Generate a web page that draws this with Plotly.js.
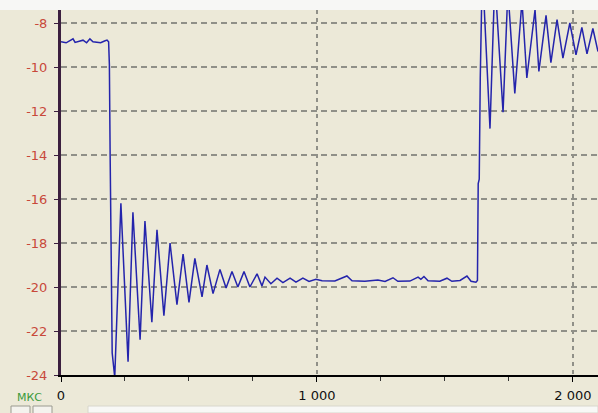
<!DOCTYPE html>
<html>
<head>
<meta charset="utf-8">
<script src="https://cdn.plot.ly/plotly-3.0.1.min.js"></script>
<style>html,body{margin:0;padding:0;background:#ECE9D8;}#chart{width:598px;height:413px;}</style>
</head>
<body>
<div id="chart"></div>
<script>
// time, microseconds
const timeUs = [
  0, 20, 35, 47, 55, 70, 86, 100, 113, 125, 140, 155, 170, 180, 186,
  189, 192, 196, 200, 210,
  234, 262, 281, 309, 328, 355, 375, 402, 426, 453, 477, 500, 523, 551, 570, 594,
  621, 645, 668, 691, 715, 738, 766, 785,
  797, 820, 844, 867, 895, 918, 945, 969, 996, 1020, 1070, 1117, 1137, 1187, 1238,
  1266, 1297, 1316, 1363, 1395, 1406, 1418, 1434, 1480, 1508, 1527, 1559, 1586,
  1602, 1621,
  1627, 1630, 1634, 1638, 1646,
  1676, 1695, 1727, 1746, 1773, 1801, 1820, 1852, 1867, 1895, 1914, 1938, 1961,
  1988, 2012, 2035, 2055, 2078, 2098
];
// signal value
const signal = [
  -8.85, -8.9, -8.8, -8.72, -8.88, -8.82, -8.78, -8.9, -8.72, -8.85, -8.88, -8.9, -8.82, -8.78, -8.85,
  -9.9, -14, -20, -23, -24.1,
  -16.2, -23.4, -16.6, -22.4, -17.0, -21.6, -17.4, -21.3, -18.0, -20.8, -18.5, -20.7, -18.7, -20.45, -19.0, -20.3,
  -19.2, -20.05, -19.3, -20.0, -19.3, -20.0, -19.4, -19.95,
  -19.55, -19.85, -19.6, -19.8, -19.6, -19.78, -19.6, -19.75, -19.65, -19.72, -19.73, -19.5, -19.72, -19.74, -19.68,
  -19.75, -19.58, -19.74, -19.73, -19.55, -19.65, -19.52, -19.72, -19.74, -19.6, -19.74, -19.7, -19.5,
  -19.74, -19.78,
  -19.7, -15.3, -15.1, -10.5, -5.5,
  -12.8, -6.0, -12.05, -6.5, -11.2, -7.0, -10.5, -7.4, -10.2, -7.65, -9.8, -7.85, -9.6,
  -8.0, -9.45, -8.2, -9.4, -8.25, -9.3
];
const yTickVals = [-24, -22, -20, -18, -16, -14, -12, -10, -8];
const yTickText = ['-24', '-22', '-20', '-18', '-16', '-14', '-12', '-10', '-8'];
const xTickVals = [0, 1000, 2000];
const xTickText = ['0', '1 000', '2 000'];
const unitLabel = 'МКС';

const W = 598, H = 413, L = 61, R = 0, T = 10, B = 38;
const pw = W - L - R, ph = H - T - B;

const trace = {
  x: timeUs, y: signal, type: 'scatter', mode: 'lines',
  line: {color: '#2424ac', width: 1.5},
  hoverinfo: 'skip'
};

const layout = {
  width: W, height: H,
  margin: {l: L, r: R, t: T, b: B, pad: 0},
  paper_bgcolor: '#ECE9D8',
  plot_bgcolor: '#ECE9D8',
  showlegend: false,
  font: {family: 'DejaVu Sans, Arial, sans-serif', size: 13, color: '#000'},
  xaxis: {
    range: [0, 2098],
    tickvals: xTickVals, ticktext: xTickText,
    ticks: 'outside', ticklen: 5, tickcolor: '#000', tickwidth: 1,
    ticklabelstandoff: 2,
    showgrid: true, gridcolor: '#909088', gridwidth: 1.2, griddash: '4px,4px',
    minor: {dtick: 250, tick0: 0, ticks: 'outside', ticklen: 4, tickcolor: '#333', showgrid: false},
    showline: true, linecolor: '#000', linewidth: 2,
    zeroline: false,
    tickfont: {family: 'DejaVu Sans, Arial, sans-serif', size: 13, color: '#111'},
    fixedrange: true
  },
  yaxis: {
    range: [-24, -24 + ph / 22],
    tickvals: yTickVals, ticktext: yTickText,
    ticks: 'outside', ticklen: 4, tickcolor: '#3b1f3f', tickwidth: 1,
    ticklabelstandoff: 4,
    showgrid: true, gridcolor: '#909088', gridwidth: 1.2, griddash: '6px,4px',
    showline: true, linecolor: '#3b1f3f', linewidth: 3,
    zeroline: false,
    tickfont: {family: 'DejaVu Sans, Arial, sans-serif', size: 13, color: '#c8483a'},
    fixedrange: true
  },
  shapes: [
    {type: 'rect', xref: 'paper', yref: 'paper', x0: -L / pw, x1: 1, y0: 1, y1: 1 + T / ph,
     fillcolor: '#f7f7f5', line: {width: 0}, layer: 'below'},
    {type: 'rect', xref: 'paper', yref: 'paper', x0: (88 - L) / pw, x1: 1, y0: -(H - 375) / ph, y1: -(406 - 375) / ph,
     fillcolor: '#f8f8f6', line: {color: '#d8d6cc', width: 1}},
    {type: 'rect', xref: 'paper', yref: 'paper', x0: (11 - L) / pw, x1: (30 - L) / pw, y0: -(H + 4 - 375) / ph, y1: -(406 - 375) / ph,
     fillcolor: '#f4f3ee', line: {color: '#9a9a90', width: 1}},
    {type: 'rect', xref: 'paper', yref: 'paper', x0: (33 - L) / pw, x1: (52 - L) / pw, y0: -(H + 4 - 375) / ph, y1: -(406 - 375) / ph,
     fillcolor: '#f4f3ee', line: {color: '#9a9a90', width: 1}}
  ],
  annotations: [
    {text: unitLabel, xref: 'paper', yref: 'paper', x: (29 - L) / pw, y: -(397 - 375) / ph,
     xanchor: 'center', yanchor: 'middle', showarrow: false,
     font: {family: 'DejaVu Sans, Arial, sans-serif', size: 11, color: '#3a9a3a'}}
  ]
};

Plotly.newPlot('chart', [trace], layout, {displayModeBar: false, staticPlot: true});
</script>
</body>
</html>
